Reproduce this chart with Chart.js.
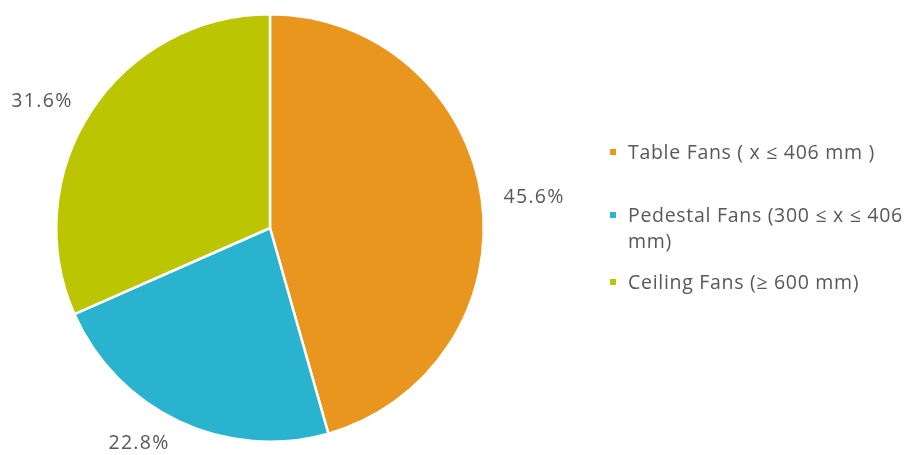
<!DOCTYPE html>
<html>
<head>
<meta charset="utf-8">
<script src="https://cdn.jsdelivr.net/npm/chart.js@4/dist/chart.umd.min.js"></script>
<style>
  html, body { margin: 0; padding: 0; background: #fff; }
  #wrap { position: relative; width: 916px; height: 455px; overflow: hidden; }
  #legend { position: absolute; left: 608px; top: 0; font-family: "Open Sans", sans-serif; font-size: 19.5px; letter-spacing: 0.7px; color: #585858; }
  .item { position: absolute; left: 0; width: 300px; padding-left: 20px; line-height: 26px; white-space: normal; }
  .swatch { position: absolute; left: 2px; top: 10px; width: 6px; height: 6px; }
</style>
</head>
<body>
<div id="wrap">
  <canvas id="pie" width="916" height="455"></canvas>
  <div id="legend"></div>
</div>
<script>
const categories = ['Table Fans ( x  \u2264 406 mm )', 'Pedestal Fans (300  \u2264 x  \u2264 406 mm)', 'Ceiling Fans (\u2265 600 mm)'];
const shares = [45.6, 22.8, 31.6];
const colors = ['#E9961F', '#29B3CF', '#BCC501'];
const legendTops = [139, 202, 269];

// percentage labels just outside each slice, left or right aligned by side
const outsideLabels = {
    id: 'outsideLabels',
    afterDatasetsDraw(chart) {
        const ctx = chart.ctx;
        const meta = chart.getDatasetMeta(0);
        ctx.save();
        ctx.font = '19.5px "Open Sans", sans-serif';
        ctx.letterSpacing = '1.3px';
        ctx.fillStyle = '#585858';
        ctx.textBaseline = 'middle';
        meta.data.forEach((arc, i) => {
            const p = arc.getProps(['x', 'y', 'startAngle', 'endAngle', 'outerRadius'], true);
            const mid = (p.startAngle + p.endAngle) / 2;
            const r = p.outerRadius + 22;
            const x = p.x + Math.cos(mid) * r;
            const y = p.y + Math.sin(mid) * r + 2;
            ctx.textAlign = Math.cos(mid) >= 0 ? 'left' : 'right';
            ctx.fillText(shares[i].toFixed(1) + '%', x, y);
        });
        ctx.restore();
    }
};

new Chart(document.getElementById('pie'), {
    type: 'pie',
    data: {
        labels: categories,
        datasets: [{
            data: shares,
            backgroundColor: colors,
            borderColor: '#ffffff',
            borderWidth: 2.5
        }]
    },
    options: {
        responsive: false,
        animation: false,
        layout: { padding: { left: 55, right: 431, top: 13, bottom: 12 } },
        plugins: {
            legend: { display: false },
            tooltip: { enabled: false }
        }
    },
    plugins: [outsideLabels]
});

const legend = document.getElementById('legend');
legend.innerHTML = categories.map((c, i) => `
    <div class="item" style="top:${legendTops[i]}px">
        <span class="swatch" style="background:${colors[i]}"></span>${c}
    </div>`).join('');
</script>
</body>
</html>
